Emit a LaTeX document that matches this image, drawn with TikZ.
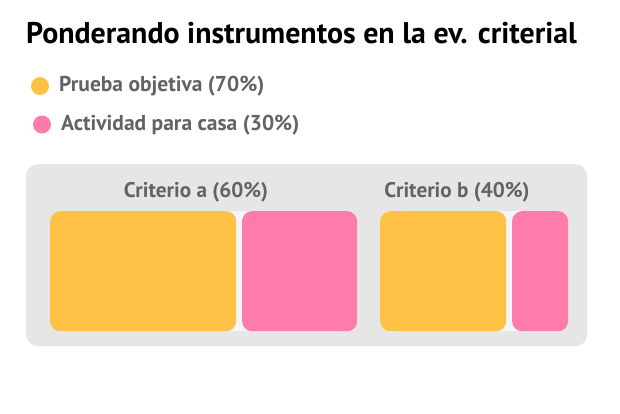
\documentclass[tikz,border=0pt]{standalone}
\usepackage{fontspec}
\setmainfont{PT Sans}
\usepackage{xcolor}
\usetikzlibrary{positioning}
\definecolor{Amber}{HTML}{FFC247}
\definecolor{Rose}{HTML}{FF7BAC}
\definecolor{PanelGray}{HTML}{E6E6E6}
\definecolor{TextGray}{HTML}{636363}
\definecolor{Gap}{HTML}{F2F5F9}

\begin{document}
\begin{tikzpicture}[
    x=1pt, y=-1pt,
    heading/.style={anchor=base west, inner sep=0pt, font=\fontsize{29.9}{31}\selectfont\bfseries, black},
    legtext/.style={anchor=base west, inner sep=0pt, font=\fontsize{21.5}{23}\selectfont\bfseries, TextGray},
    crit/.style={anchor=base, inner sep=0pt, font=\fontsize{21.2}{23}\selectfont\bfseries, TextGray},
    dot/.style={circle, minimum size=18pt, inner sep=0pt},
    part/.style={anchor=north west, rounded corners=10pt, minimum height=120pt, inner sep=0pt},
    prueba/.style={part, fill=Amber},
    casa/.style={part, fill=Rose}
]
\useasboundingbox[fill=white] (0,0) rectangle (620,413);

% --- title ---
\node[heading] (title) at (26,43) {Ponderando instrumentos en la ev. criterial};

% --- legend ---
\node[dot, fill=Amber] (dot1) at (40,86) {};
\node[legtext] (leg1) at (59,91) {Prueba objetiva (70\%)};
\node[dot, fill=Rose] (dot2) at (42,124.5) {};
\node[legtext] (leg2) at (61,130) {Actividad para casa (30\%)};

% --- panel ---
\node[anchor=north west, fill=PanelGray, rounded corners=12pt, minimum width=561pt, minimum height=182pt] (panel) at (26,164) {};
\node[crit] (crita) at (196,197) {Criterio a (60\%)};
\node[crit] (critb) at (457,197) {Criterio b (40\%)};

% strips behind the joins
\fill[Gap] (225,211) rectangle (251,331);
\fill[Gap] (495,211) rectangle (521,331);

% --- criterio a ---
\node[prueba, minimum width=186pt] (ya) at (50,211) {};
\node[casa, minimum width=115pt, right=5.5pt of ya.north east, anchor=north west] (pa) {};

% --- criterio b ---
\node[prueba, minimum width=126pt] (yb) at (380,211) {};
\node[casa, minimum width=56pt, right=5.5pt of yb.north east, anchor=north west] (pb) {};
\end{tikzpicture}
\end{document}
